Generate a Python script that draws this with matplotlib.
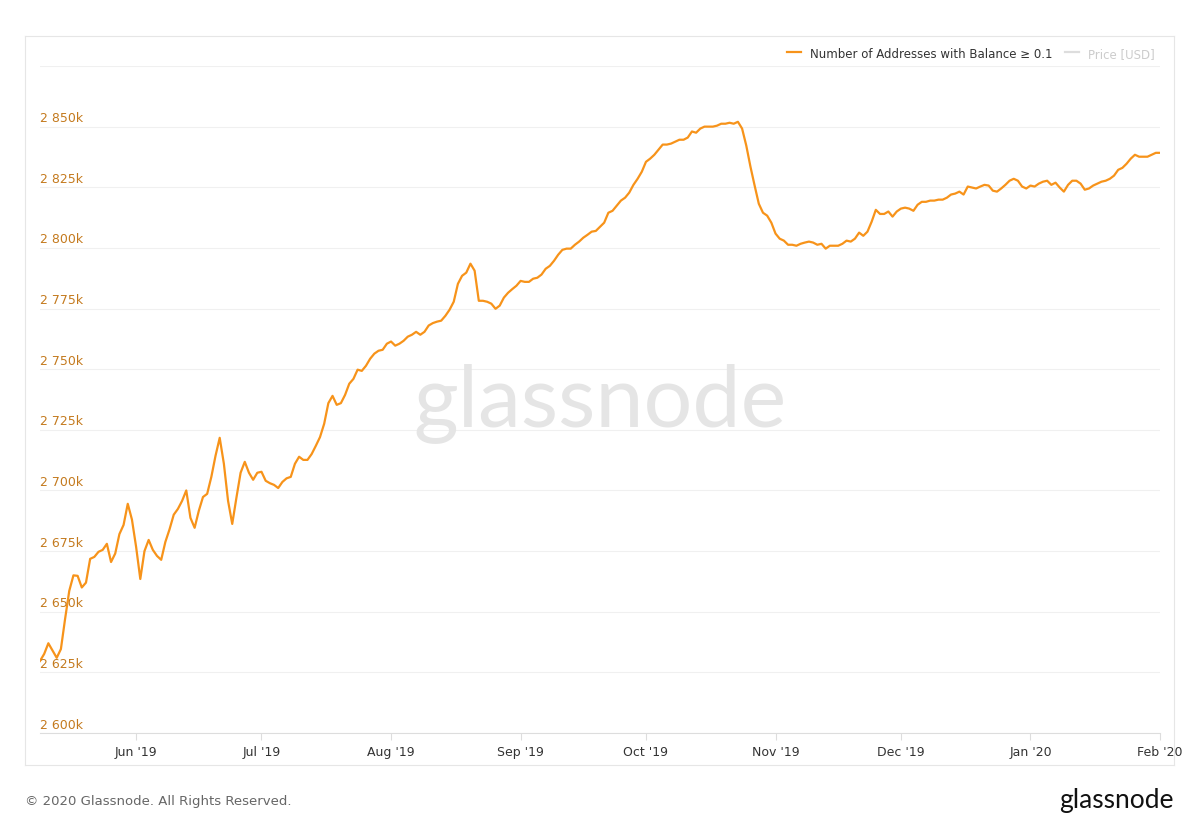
import pandas as pd
import numpy as np
import matplotlib.pyplot as plt
import matplotlib.dates as mdates
from matplotlib.ticker import FuncFormatter, FixedLocator

# addresses with balance >= 0.1, thousands
addresses_k = [
    2629.7, 2632.6, 2637.0, 2634.0, 2631.0, 2634.6, 2647.0, 2658.6, 2665.0, 2664.8,
    2660.0, 2662.0, 2671.8, 2672.6, 2674.7, 2675.5, 2678.0, 2670.5, 2674.0, 2682.0,
    2685.8, 2694.5, 2688.0, 2676.7, 2663.5, 2675.0, 2679.6, 2675.5, 2673.0, 2671.4,
    2678.8, 2684.0, 2690.0, 2692.4, 2695.7, 2700.0, 2688.7, 2684.6, 2691.6, 2697.3,
    2698.6, 2705.6, 2714.3, 2721.7, 2711.0, 2695.7, 2686.2, 2697.0, 2707.3, 2711.8,
    2707.3, 2704.4, 2707.3, 2707.7, 2704.0, 2703.0, 2702.3, 2701.0, 2703.5, 2705.0,
    2705.6, 2711.0, 2713.9, 2712.6, 2712.6, 2715.0, 2718.4, 2722.0, 2727.5, 2736.0,
    2739.0, 2735.3, 2736.0, 2739.4, 2744.0, 2746.0, 2749.8, 2749.3, 2751.4, 2754.3,
    2756.4, 2757.6, 2758.0, 2760.5, 2761.4, 2759.7, 2760.5, 2761.7, 2763.4, 2764.2,
    2765.4, 2764.2, 2765.4, 2768.0, 2769.0, 2769.6, 2770.0, 2772.0, 2774.5, 2777.8,
    2785.2, 2788.5, 2789.8, 2793.5, 2790.6, 2778.2, 2778.2, 2777.8, 2777.0, 2774.9,
    2776.2, 2779.5, 2781.5, 2783.0, 2784.4, 2786.4, 2786.0, 2786.0, 2787.3, 2787.7,
    2789.0, 2791.4, 2792.6, 2794.7, 2797.2, 2799.2, 2799.7, 2799.7, 2801.3, 2802.6,
    2804.2, 2805.4, 2806.7, 2807.0, 2808.7, 2810.4, 2814.5, 2815.3, 2817.4, 2819.5,
    2820.7, 2822.8, 2826.0, 2828.5, 2831.4, 2835.5, 2836.8, 2838.4, 2840.5, 2842.6,
    2842.6, 2843.0, 2843.8, 2844.6, 2844.6, 2845.5, 2848.0, 2847.5, 2849.2, 2850.0,
    2850.0, 2850.0, 2850.4, 2851.2, 2851.2, 2851.6, 2851.2, 2852.0, 2849.2, 2842.2,
    2833.5, 2825.7, 2818.2, 2814.5, 2813.3, 2810.4, 2805.9, 2803.8, 2803.0, 2801.3,
    2801.3, 2800.9, 2801.7, 2802.2, 2802.6, 2802.2, 2801.3, 2801.7, 2799.7, 2800.9,
    2800.9, 2800.9, 2801.7, 2803.0, 2802.6, 2803.8, 2806.3, 2805.0, 2806.7, 2810.8,
    2815.7, 2814.0, 2814.0, 2815.0, 2812.9, 2815.0, 2816.2, 2816.6, 2816.2, 2815.3,
    2817.8, 2819.0, 2819.0, 2819.5, 2819.5, 2819.9, 2819.9, 2820.7, 2822.0, 2822.4,
    2823.2, 2822.0, 2825.3, 2824.9, 2824.5, 2825.3, 2826.0, 2825.7, 2823.6, 2823.2,
    2824.5, 2826.0, 2827.7, 2828.5, 2827.7, 2825.3, 2824.5, 2825.7, 2825.3, 2826.5,
    2827.3, 2827.7, 2826.0, 2826.9, 2824.9, 2823.2, 2826.0, 2827.7, 2827.7, 2826.5,
    2824.0, 2824.5, 2825.7, 2826.5, 2827.3, 2827.7, 2828.5, 2829.8, 2832.2, 2833.0,
    2834.7, 2836.8, 2838.4, 2837.6, 2837.6, 2837.6, 2838.4, 2839.2, 2839.2,
]
dates = pd.date_range('2019-05-09', '2020-02-01', periods=len(addresses_k))
yticks = [2600, 2625, 2650, 2675, 2700, 2725, 2750, 2775, 2800, 2825, 2850, 2875]
month_labels = ['Jun \'19', 'Jul \'19', 'Aug \'19', 'Sep \'19', 'Oct \'19',
                'Nov \'19', 'Dec \'19', 'Jan \'20', 'Feb \'20']

orange = '#f7931a'
label_col = '#c47a1e'

fig = plt.figure(figsize=(12, 8.37), dpi=100)
# outer frame
frame = fig.add_axes([25/1200, 1-766/837, 1149/1200, 729/837])
frame.set_xticks([]); frame.set_yticks([])
for s in frame.spines.values():
    s.set_color('#e6e6e6')

ax = fig.add_axes([40/1200, 1-734/837, 1120/1200, 667/837])
ax.set_facecolor('none')
ax.plot(dates, addresses_k, color=orange, lw=1.6)
ax.set_xlim(dates[0], dates[-1])
ax.set_ylim(2600, 2875)
ax.yaxis.set_major_locator(FixedLocator(yticks))
ax.grid(axis='y', color='#f0f0f0', lw=0.8)
ax.set_yticklabels([])
ax.tick_params(axis='y', length=0)
for v in yticks[:-1]:
    ax.text(0, v + 1.0, f'2 {v-2000}k', transform=ax.get_yaxis_transform(),
            color=label_col, fontsize=9, ha='left', va='bottom')

month_starts = pd.date_range('2019-06-01', '2020-02-01', freq='MS')
ax.set_xticks(month_starts)
ax.set_xticklabels(month_labels, fontsize=9, color='#333333')
ax.tick_params(axis='x', length=5, color='#dddddd', pad=4)
for s in ['top', 'right', 'left']:
    ax.spines[s].set_visible(False)
ax.spines['bottom'].set_color('#dddddd')

ax.plot([], [], color=orange, lw=1.6, label='Number of Addresses with Balance ≥ 0.1')
ax.plot([], [], color='#dddddd', lw=1.6, label='Price [USD]')
leg = ax.legend(loc='upper right', bbox_to_anchor=(1.005, 1.045), ncol=2, frameon=False,
                fontsize=8.5, handlelength=1.2, columnspacing=1.0)
leg.get_texts()[1].set_color('#cccccc')
leg.get_texts()[0].set_color('#333333')

fig.text(0.5, 1-403/837, 'glassnode', fontsize=62, color='#e5e5e5',
         family='Lato', ha='center', va='center', zorder=0)
fig.text(25/1200, 1-802/837, '© 2020 Glassnode. All Rights Reserved.',
         fontsize=9.5, color='#666666', va='center')
fig.text(1174/1200, 1-801/837, 'glassnode', fontsize=19, color='#111111',
         family='Lato', ha='right', va='center')

fig.savefig('out.png', dpi=100)
